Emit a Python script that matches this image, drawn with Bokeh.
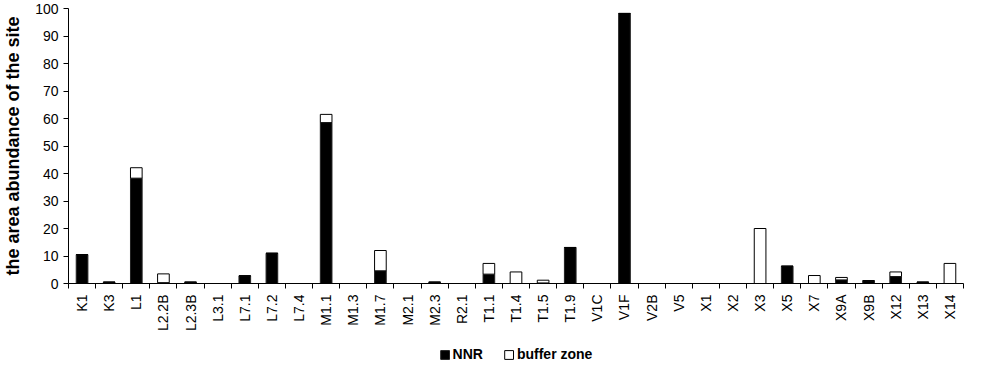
import math
from bokeh.plotting import figure
from bokeh.layouts import column
from bokeh.models import (Range1d, FixedTicker, CustomJSTickFormatter,
                          Legend, LegendItem, ColumnDataSource)
from bokeh.embed import file_html
from bokeh.resources import INLINE

sites = ["K1", "K3", "L1", "L2.2B", "L2.3B", "L3.1", "L7.1", "L7.2", "L7.4", "M1.1", "M1.3",
         "M1.7", "M2.1", "M2.3", "R2.1", "T1.1", "T1.4", "T1.5", "T1.9", "V1C", "V1F", "V2B",
         "V5", "X1", "X2", "X3", "X5", "X7", "X9A", "X9B", "X12", "X13", "X14"]
nnr = [10.5, 0.5, 38.3, 0.3, 0.5, 0, 2.8, 11.0, 0, 58.5, 0,
       4.6, 0, 0.5, 0, 3.4, 0, 0.2, 13.1, 0, 98.2, 0,
       0, 0, 0, 0, 6.3, 0, 1.3, 1.0, 2.5, 0.5, 0]
buffer_zone = [0, 0, 3.8, 3.2, 0, 0, 0, 0, 0, 3.0, 0,
               7.4, 0, 0, 0, 3.9, 4.2, 1.0, 0, 0, 0, 0,
               0, 0, 0, 20.0, 0, 2.9, 0.9, 0, 1.7, 0, 7.3]
series_names = ["NNR", "buffer zone"]
y_ticks = list(range(0, 101, 10))

n = len(sites)
centers = [i + 0.5 for i in range(n)]
edges = list(range(n + 1))
source = ColumnDataSource(dict(x=centers, site=sites, nnr=nnr, buffer=buffer_zone))

font = "Liberation Sans"
fills = ["black", "white"]
lines = ["#222222", "black"]

p = figure(x_range=Range1d(0, n), y_range=Range1d(0, 100),
           width=965, height=335, output_backend="svg", toolbar_location=None,
           x_axis_location="below", y_axis_location="left",
           min_border_left=63, min_border_right=2, min_border_top=8, min_border_bottom=52)
p.outline_line_color = None
p.background_fill_color = "white"
p.border_fill_color = "white"
p.grid.visible = False

yaxis = p.yaxis[0]
yaxis.ticker = FixedTicker(ticks=y_ticks)
yaxis.major_tick_out = 5
yaxis.major_tick_in = 0
yaxis.minor_tick_line_color = None
yaxis.axis_line_color = "black"
yaxis.major_tick_line_color = "black"
yaxis.major_label_text_font = font
yaxis.major_label_text_font_size = "14px"
yaxis.major_label_text_color = "black"
yaxis.major_label_standoff = 5
yaxis.axis_label = "the area abundance of the site"
yaxis.axis_label_text_font = font
yaxis.axis_label_text_font_style = "bold"
yaxis.axis_label_text_font_size = "18px"
yaxis.axis_label_text_color = "black"
yaxis.axis_label_standoff = 9

xaxis = p.xaxis[0]
xaxis.ticker = FixedTicker(ticks=centers, minor_ticks=edges)
xaxis.formatter = CustomJSTickFormatter(args=dict(names=sites),
                                        code="return names[Math.floor(tick)];")
xaxis.major_tick_line_color = None
xaxis.major_tick_out = 5
xaxis.major_tick_in = 0
xaxis.minor_tick_line_color = "black"
xaxis.minor_tick_out = 5
xaxis.minor_tick_in = 0
xaxis.axis_line_color = "black"
xaxis.major_label_orientation = math.pi / 2
xaxis.major_label_standoff = 6
xaxis.major_label_text_font = font
xaxis.major_label_text_font_size = "14px"
xaxis.major_label_text_color = "black"

p.vbar_stack(["nnr", "buffer"], x="x", width=0.43, source=source,
             fill_color=fills, line_color=lines, line_width=1)

# legend strip below the chart (its renderers sit far outside the visible area)
lg = figure(x_range=Range1d(0, 1), y_range=Range1d(0, 1), width=965, height=27,
            output_backend="svg", toolbar_location=None,
            x_axis_location=None, y_axis_location=None,
            min_border_left=63, min_border_right=2, min_border_top=0, min_border_bottom=0)
lg.outline_line_color = None
lg.grid.visible = False
lg.background_fill_color = "white"
lg.border_fill_color = "white"
hidden = ColumnDataSource(dict(x=[0.5], top=[-5.0], bottom=[-6.0]))
items = []
for name, fc, lc in zip(series_names, fills, lines):
    r = lg.vbar(x="x", top="top", bottom="bottom", width=0.1, source=hidden,
                fill_color=fc, line_color=lc)
    items.append(LegendItem(label=name, renderers=[r]))
legend = Legend(items=items, orientation="horizontal", location="bottom_center",
                label_text_font=font, label_text_font_style="bold", label_text_font_size="14px",
                label_text_color="black",
                glyph_width=11, glyph_height=11, label_standoff=3, spacing=20,
                padding=1, margin=0, border_line_color=None, background_fill_alpha=0)
lg.add_layout(legend)

layout = column(p, lg, spacing=0)
open("out.html", "w").write(file_html(layout, INLINE))
